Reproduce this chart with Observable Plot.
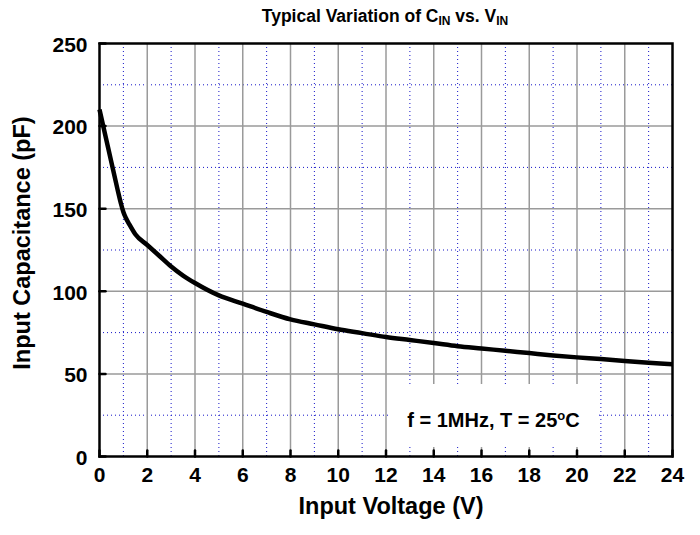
<!DOCTYPE html>
<html>
<head>
<meta charset="utf-8">
<script src="https://cdn.jsdelivr.net/npm/d3@7"></script>
<script src="https://cdn.jsdelivr.net/npm/@observablehq/plot@0.6"></script>
<style>
  html, body { margin: 0; padding: 0; background: #fff; }
  #wrap { position: relative; width: 700px; height: 535px; font-family: "Liberation Sans", Arial, sans-serif; font-weight: bold; color: #000; }
  #title { position: absolute; left: 0; top: 8px; width: 770px; text-align: center; font-size: 17.5px; line-height: 17.5px; white-space: nowrap; }
  #title sub { font-size: 12px; vertical-align: -3px; line-height: 0; }
  #note { position: absolute; left: 390px; top: 384px; width: 207px; height: 63px; box-sizing: border-box; padding-top: 26px; background: #fff; text-align: center; font-size: 20px; line-height: 20px; white-space: nowrap; }
  #note sup { font-size: 13px; vertical-align: 7px; line-height: 0; }
  #ytitle { position: absolute; left: -128px; top: 231px; width: 300px; height: 24px; line-height: 24px; font-size: 23.5px; text-align: center; white-space: nowrap; transform: rotate(-90deg); }
</style>
</head>
<body>
<div id="wrap">
  <div id="chart"></div>
  <div id="title">Typical Variation of C<sub>IN</sub> vs. V<sub>IN</sub></div>
  <div id="note">f = 1MHz, T = 25<sup>o</sup>C</div>
  <div id="ytitle"></div>
</div>
<script>
// Input voltage (V) and input capacitance (pF)
const voltage = [0, 0.25, 0.5, 0.75, 0.9, 1, 1.1, 1.25, 1.5, 2, 2.5, 3, 3.5, 4, 5, 6, 7, 8, 9, 10, 11, 12, 13, 14, 15, 16, 17, 18, 19, 20, 21, 22, 23, 24];
const capacitance = [210, 194, 178, 162, 153, 148, 144.5, 140.5, 134.5, 128, 121.5, 115, 109.5, 105, 97.5, 92.5, 87.5, 83, 80, 77, 74.7, 72.3, 70.5, 68.7, 66.8, 65.4, 64, 62.6, 61.2, 60, 59, 57.8, 56.8, 55.8];

const xTicks = [0, 2, 4, 6, 8, 10, 12, 14, 16, 18, 20, 22, 24];
const xMajorGrid = [2, 4, 6, 8, 10, 12, 14, 16, 18, 20, 22];
const xMinorGrid = [1, 3, 5, 7, 9, 11, 13, 15, 17, 19, 21, 23];
const yTicks = [0, 50, 100, 150, 200, 250];
const yMajorGrid = [50, 100, 150, 200];
const yMinorGrid = [25, 75, 125, 175, 225];

const xTitle = "Input Voltage (V)";
const yTitle = "Input Capacitance (pF)";
document.getElementById("ytitle").textContent = yTitle;

const data = voltage.map((v, i) => ({v, c: capacitance[i]}));

const tickShape = {draw(context, l) { context.moveTo(0, 0); context.lineTo(0, -l); }};

const minorStyle = {stroke: "#1515c8", strokeWidth: 1, strokeDasharray: "1,3"};
const majorStyle = {stroke: "#9a9a9a", strokeWidth: 1.5};
const font = {fontSize: 21, fontWeight: "bold", fill: "#000"};

const chart = Plot.plot({
  width: 700,
  height: 535,
  marginLeft: 99,
  marginRight: 28,
  marginTop: 43,
  marginBottom: 79,
  style: {fontFamily: "'Liberation Sans', Arial, sans-serif", background: "#fff"},
  x: {domain: [0, 24], axis: null},
  y: {domain: [0, 250], axis: null},
  marks: [
    Plot.ruleX(xMinorGrid, {x: d => d, ...minorStyle}),
    Plot.ruleY(yMinorGrid, {y: d => d, ...minorStyle}),
    Plot.ruleX(xMajorGrid, {x: d => d, ...majorStyle}),
    Plot.ruleY(yMajorGrid, {y: d => d, ...majorStyle}),
    Plot.vector(xTicks, {x: d => d, y: 0, length: 6, anchor: "start", rotate: 0, shape: tickShape, stroke: "#000", strokeWidth: 2.5}),
    Plot.vector(yTicks, {x: 0, y: d => d, length: 6, anchor: "start", rotate: 90, shape: tickShape, stroke: "#000", strokeWidth: 2.5}),
    Plot.line(data, {x: "v", y: "c", curve: "monotone-x", stroke: "#000", strokeWidth: 4.5, strokeLinecap: "butt"}),
    Plot.frame({stroke: "#000", strokeWidth: 2.5}),
    Plot.text(xTicks, {x: d => d, frameAnchor: "bottom", dy: 25, text: d => String(d), ...font}),
    Plot.text(yTicks, {y: d => d, frameAnchor: "left", dx: -12, dy: 1.5, textAnchor: "end", text: d => String(d), ...font}),
    Plot.text([xTitle], {frameAnchor: "bottom", dx: 5, dy: 57, text: d => d, fontSize: 23.5, fontWeight: "bold", fill: "#000"})
  ]
});
document.getElementById("chart").appendChild(chart);
</script>
</body>
</html>
